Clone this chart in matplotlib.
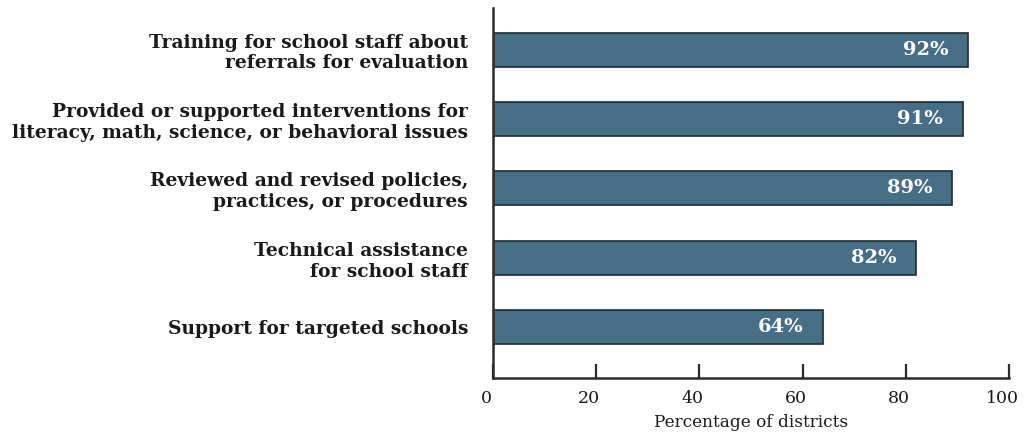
import matplotlib.pyplot as plt
import matplotlib.transforms as mtransforms

# data, listed top to bottom as in the chart
labels = [
    "Training for school staff about\nreferrals for evaluation",
    "Provided or supported interventions for\nliteracy, math, science, or behavioral issues",
    "Reviewed and revised policies,\npractices, or procedures",
    "Technical assistance\nfor school staff",
    "Support for targeted schools",
]
values = [92, 91, 89, 82, 64]
xticks = [0, 20, 40, 60, 80, 100]

bar_color = "#476e84"
edge_color = "#1c2b36"
axis_color = "#2b2b2b"

plt.rcParams['font.family'] = ['DejaVu Serif']

fig = plt.figure(figsize=(10.24, 4.38), dpi=100)
ax = fig.add_axes([0.4814, 0.137, 0.5039, 0.845])

# put the first label at the top
pos = list(range(len(values)))[::-1]
ax.barh(pos, values, height=0.49, color=bar_color, edgecolor=edge_color, linewidth=1.2)

for p, v in zip(pos, values):
    ax.annotate("{}%".format(v), xy=(v, p), xytext=(-14, 0), textcoords="offset points",
                ha="right", va="center", color="white", fontsize=14, fontweight="bold")

ax.set_yticks(pos)
ax.set_yticklabels(labels, fontsize=13.4, fontweight="bold", color="#1a1a1a",
                   linespacing=1.2)
ax.tick_params(axis="y", length=0, pad=18)

ax.set_xlim(0, 100)
ax.set_ylim(-0.73, 4.6)
ax.set_xticks(xticks)
ax.set_xticklabels([str(t) for t in xticks], fontsize=12.5, color="#1a1a1a")
ax.tick_params(axis="x", direction="in", length=10, width=1.6, color=axis_color, pad=9)
# the tick numbers sit slightly left of their ticks in the original
shift = mtransforms.ScaledTranslation(-5 / 72, 0, fig.dpi_scale_trans)
for lab in ax.get_xticklabels():
    lab.set_transform(lab.get_transform() + shift)
ax.set_xlabel("Percentage of districts", fontsize=12.2, color="#1a1a1a", labelpad=5)

for side in ["top", "right"]:
    ax.spines[side].set_visible(False)
for side in ["left", "bottom"]:
    ax.spines[side].set_color(axis_color)
    ax.spines[side].set_linewidth(1.8)

plt.savefig("out.png", dpi=100)
